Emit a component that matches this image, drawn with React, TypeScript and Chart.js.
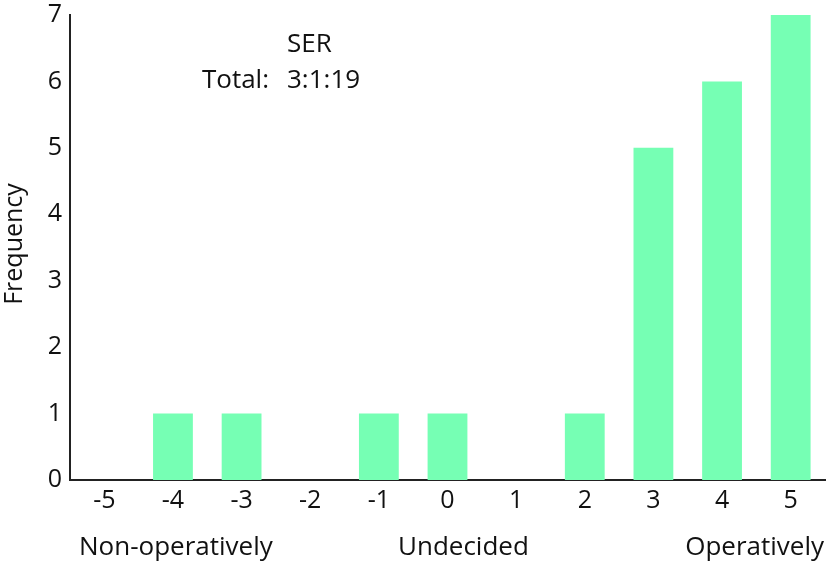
import React, { useEffect, useRef } from "react";
import { Chart, registerables } from "chart.js";

Chart.register(...registerables);

const categories = ["-5", "-4", "-3", "-2", "-1", "0", "1", "2", "3", "4", "5"];
const frequency = [0, 1, 1, 0, 1, 1, 0, 1, 5, 6, 7];
const yTicks = [0, 1, 2, 3, 4, 5, 6, 7];
const groupLabels = ["Non-operatively", "Undecided", "Operatively"];
const annotationTitle = "SER";
const annotationLabel = "Total:";
const annotationValue = "3:1:19";

const FONT = "'Open Sans', 'DejaVu Sans', sans-serif";

const textPlugin = {
  id: "customText",
  afterDraw(chart: any) {
    const ctx = chart.ctx;
    ctx.save();
    ctx.fillStyle = "#111";
    ctx.font = `26px ${FONT}`;
    ctx.textBaseline = "middle";
    // group labels
    ctx.textAlign = "left";
    ctx.fillText(groupLabels[0], 79, 548);
    ctx.fillText(groupLabels[1], 398, 548);
    ctx.textAlign = "right";
    ctx.fillText(groupLabels[2], 824, 548);
    // annotation
    ctx.textAlign = "left";
    ctx.fillText(annotationTitle, 287, 45);
    ctx.fillText(annotationValue, 287, 81);
    ctx.textAlign = "right";
    ctx.fillText(annotationLabel, 269, 81);
    // y title
    ctx.font = `25px ${FONT}`;
    ctx.translate(15, 244);
    ctx.rotate(-Math.PI / 2);
    ctx.textAlign = "center";
    ctx.fillText("Frequency", 0, 0);
    ctx.restore();
  },
};

export default function App() {
  const ref = useRef<HTMLCanvasElement>(null);
  useEffect(() => {
    const chart = new Chart(ref.current!, {
      type: "bar",
      data: {
        labels: categories,
        datasets: [
          {
            data: frequency,
            backgroundColor: "#76FFB4",
            borderWidth: 0,
            barPercentage: 0.58,
            categoryPercentage: 1,
          },
        ],
      },
      options: {
        animation: false,
        responsive: false,
        maintainAspectRatio: false,
        layout: { padding: { top: 15, right: 4, left: 0, bottom: 0 } },
        plugins: { legend: { display: false }, tooltip: { enabled: false } },
        scales: {
          x: {
            grid: { display: false, drawTicks: false },
            border: { display: true, color: "#222", width: 2 },
            ticks: { color: "#111", font: { size: 25, family: FONT }, padding: 6 },
            afterFit(scale: any) {
              scale.height = 83;
              scale.paddingLeft = 0;
              scale.paddingRight = 0;
            },
          },
          y: {
            min: 0,
            max: 7,
            afterBuildTicks(scale: any) {
              scale.ticks = yTicks.map((v) => ({ value: v }));
            },
            grid: { display: false, drawTicks: false },
            border: { display: true, color: "#222", width: 2 },
            ticks: { color: "#111", font: { size: 25, family: FONT }, padding: 8 },
            afterFit(scale: any) {
              scale.width = 70;
              scale.paddingTop = 0;
              scale.paddingBottom = 0;
            },
          },
        },
      },
      plugins: [textPlugin],
    });
    return () => chart.destroy();
  }, []);
  return (
    <div style={{ position: "fixed", left: 0, top: 0, width: 829, height: 563, background: "#fff" }}>
      <canvas ref={ref} width={829} height={563} />
    </div>
  );
}
